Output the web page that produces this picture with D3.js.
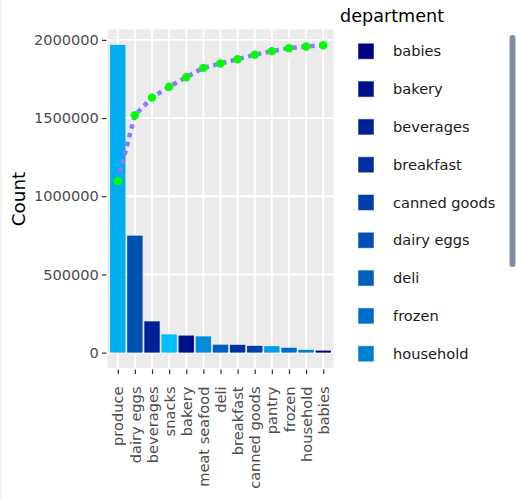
<!DOCTYPE html>
<html>
<head>
<meta charset="utf-8">
<script src="https://cdn.jsdelivr.net/npm/d3@7"></script>
<style>
  html, body { margin: 0; padding: 0; background: #fff; }
  svg { display: block; font-family: "DejaVu Sans", Verdana, sans-serif; }
</style>
</head>
<body>
<svg id="chart" width="517" height="500"></svg>
<script>
// ---- data ----
const categories = ["produce", "dairy eggs", "beverages", "snacks", "bakery", "meat seafood",
  "deli", "breakfast", "canned goods", "pantry", "frozen", "household", "babies"];
const counts = [1968000, 748000, 200000, 116500, 109000, 104000,
  51000, 50000, 43500, 41500, 31000, 17500, 13000];
const cumulativeScaled = [1098000, 1518000, 1631000, 1700000, 1761000, 1821000,
  1849000, 1876000, 1905000, 1928000, 1947000, 1958000, 1966000];
const legendDepartments = ["babies", "bakery", "beverages", "breakfast", "canned goods",
  "dairy eggs", "deli", "frozen", "household", "meat seafood", "pantry", "produce", "snacks"];
const yTicks = [0, 500000, 1000000, 1500000, 2000000];
const yTitle = "Count";
const legendTitle = "department";

// ---- layout ----
const svg = d3.select("#chart");
const panel = { left: 107.5, right: 333.5, top: 29.5, bottom: 368 };

svg.append("rect").attr("x", 0).attr("y", 0).attr("width", 2).attr("height", 500).attr("fill", "#f3f3f3");

const x = d3.scalePoint().domain(categories).range([panel.left, panel.right]).padding(0.6);
const step = x.step();
const y = d3.scaleLinear().domain([-98400, 2066400]).range([panel.bottom, panel.top]);

const color = d3.scaleOrdinal()
  .domain(legendDepartments)
  .range(legendDepartments.map((d, i) => d3.interpolateRgb("#000080", "#00BDFB")(i / (legendDepartments.length - 1))));

// panel background
svg.append("rect")
  .attr("x", panel.left).attr("y", panel.top)
  .attr("width", panel.right - panel.left).attr("height", panel.bottom - panel.top)
  .attr("fill", "#ebebeb");

// grid
const grid = svg.append("g").attr("stroke", "#ffffff").attr("stroke-width", 1.8);
grid.selectAll("line.h").data(yTicks).join("line")
  .attr("x1", panel.left).attr("x2", panel.right)
  .attr("y1", d => y(d)).attr("y2", d => y(d));
grid.selectAll("line.v").data(categories).join("line")
  .attr("y1", panel.top).attr("y2", panel.bottom)
  .attr("x1", d => x(d)).attr("x2", d => x(d));

// bars
svg.append("g").selectAll("rect").data(categories).join("rect")
  .attr("x", d => x(d) - step * 0.45)
  .attr("width", step * 0.9)
  .attr("y", (d, i) => y(counts[i]))
  .attr("height", (d, i) => y(0) - y(counts[i]))
  .attr("fill", d => color(d));

// cumulative line
const line = d3.line().x((d, i) => x(categories[i])).y(d => y(d));
svg.append("path")
  .datum(cumulativeScaled)
  .attr("d", line)
  .attr("fill", "none")
  .attr("stroke", "#7f7fff")
  .attr("stroke-width", 4.5)
  .attr("stroke-dasharray", "4.5,4.5");
svg.append("g").selectAll("circle").data(cumulativeScaled).join("circle")
  .attr("cx", (d, i) => x(categories[i]))
  .attr("cy", d => y(d))
  .attr("r", 4.2)
  .attr("fill", "#00ff00");

// y axis
const yAxis = svg.append("g")
  .attr("transform", `translate(${panel.left - 1},0)`)
  .call(d3.axisLeft(y).tickValues(yTicks).tickFormat(d3.format("d")).tickSize(4.6).tickPadding(3));
yAxis.select(".domain").remove();
yAxis.selectAll(".tick line").attr("stroke", "#333333").attr("stroke-width", 1.2);
yAxis.selectAll(".tick text")
  .attr("fill", "#4d4d4d")
  .style("font-size", "14.6px")
  .style("font-family", "DejaVu Sans, Verdana, sans-serif");

// x axis
const xAxis = svg.append("g")
  .attr("transform", `translate(0,${panel.bottom + 1.5})`)
  .call(d3.axisBottom(x).tickSize(4.6).tickPadding(3));
xAxis.select(".domain").remove();
xAxis.selectAll(".tick line").attr("stroke", "#333333").attr("stroke-width", 1.2);
xAxis.selectAll(".tick text")
  .attr("fill", "#4d4d4d")
  .style("font-size", "14.6px")
  .style("font-family", "DejaVu Sans, Verdana, sans-serif")
  .attr("text-anchor", "end")
  .attr("transform", "translate(0,17) rotate(-90)")
  .attr("x", 0).attr("y", 0).attr("dy", "0.35em");

// y title
svg.append("text")
  .attr("transform", "translate(24.5,199) rotate(-90)")
  .attr("text-anchor", "middle")
  .attr("fill", "#000")
  .style("font-size", "18.3px")
  .text(yTitle);

// legend (scrollable box: only the entries that fit in its viewport are shown)
svg.append("text")
  .attr("x", 340).attr("y", 22.3)
  .attr("fill", "#000")
  .style("font-size", "17.6px")
  .text(legendTitle);

const legTop = 51.3, legGap = 37.8, legBottom = 372;
const visibleLegend = legendDepartments.filter((d, i) => legTop + i * legGap + 8 < legBottom);

const leg = svg.append("g");
const item = leg.selectAll("g").data(visibleLegend).join("g")
  .attr("transform", (d, i) => `translate(0,${legTop + i * legGap})`);
item.append("rect")
  .attr("x", 358.5).attr("y", -7.5).attr("width", 15).attr("height", 15)
  .attr("fill", d => color(d))
  .attr("stroke", d => color(d)).attr("stroke-opacity", 0.5).attr("stroke-width", 1);
item.append("text")
  .attr("x", 393).attr("y", 0).attr("dy", "0.35em")
  .attr("fill", "#1a1a1a")
  .style("font-size", "14.6px")
  .text(d => d);

// scrollbar
svg.append("rect")
  .attr("x", 509.5).attr("y", 35).attr("width", 6).attr("height", 232).attr("rx", 3)
  .attr("fill", "#808BA4");
</script>
</body>
</html>
